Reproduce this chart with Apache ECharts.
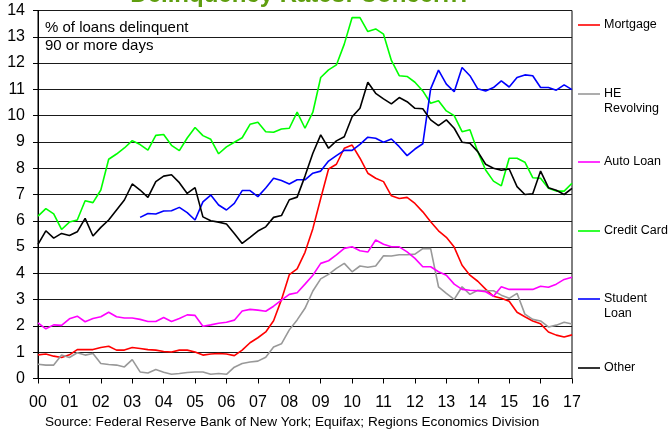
<!DOCTYPE html>
<html><head><meta charset="utf-8">
<script src="https://cdn.jsdelivr.net/npm/echarts@6/dist/echarts.min.js"></script>
<style>html,body{margin:0;padding:0;background:#fff}#c{width:669px;height:429px}</style>
</head><body><div id="c"></div>
<script>
const yearLabels = ['00','01','02','03','04','05','06','07','08','09','10','11','12','13','14','15','16','17'];
const seriesNames = ['Mortgage','HE\nRevolving','Auto Loan','Credit Card','Student\nLoan','Other'];
const mortgage = [0.9,0.93,0.85,0.8,0.9,1.1,1.1,1.1,1.18,1.23, 1.08,1.08,1.18,1.14,1.1,1.08,1.03,1.01,1.08,1.08, 1.01,0.89,0.93,0.95,0.93,0.87,1.08,1.36,1.55,1.77, 2.2,3.0,3.95,4.17,4.8,5.7,6.85,7.97,8.15,8.76, 8.88,8.38,7.81,7.62,7.49,6.95,6.85,6.89,6.66,6.34, 5.96,5.62,5.37,5.0,4.31,3.93,3.7,3.4,3.13,3.05, 2.94,2.52,2.35,2.19,2.08,1.77,1.65,1.58,1.66];
const heRevolving = [0.54,0.51,0.51,0.89,0.8,0.98,0.89,0.95,0.57,0.53, 0.51,0.44,0.72,0.25,0.21,0.34,0.24,0.16,0.19,0.23, 0.25,0.25,0.16,0.19,0.16,0.43,0.57,0.63,0.66,0.81, 1.2,1.32,1.85,2.23,2.67,3.33,3.79,3.96,4.19,4.38, 4.06,4.28,4.23,4.28,4.67,4.66,4.71,4.71,4.73,4.94, 4.94,3.49,3.24,3.01,3.49,3.2,3.36,3.34,3.34,3.17, 3.05,3.24,2.45,2.25,2.19,1.96,2.03,2.14,2.07];
const autoLoan = [2.12,1.89,2.04,2.02,2.27,2.37,2.16,2.28,2.35,2.52, 2.35,2.3,2.3,2.25,2.17,2.17,2.32,2.17,2.28,2.42, 2.4,1.99,2.04,2.1,2.14,2.22,2.57,2.63,2.6,2.56, 2.75,2.98,3.2,3.26,3.59,3.93,4.38,4.48,4.7,4.95, 5.01,4.86,4.81,5.27,5.11,5.01,5.01,4.82,4.57,4.25, 4.25,4.06,3.93,3.59,3.39,3.36,3.34,3.3,3.13,3.49, 3.39,3.39,3.39,3.39,3.51,3.47,3.59,3.77,3.85];
const creditCard = [6.18,6.46,6.26,5.67,5.95,6.03,6.76,6.69,7.17,8.34, 8.54,8.77,9.05,8.9,8.69,9.25,9.28,8.87,8.67,9.15, 9.55,9.24,9.1,8.55,8.81,8.99,9.16,9.67,9.75,9.39, 9.37,9.49,9.52,10.13,9.52,10.13,11.45,11.74,11.93,12.72, 13.73,13.73,13.2,13.3,13.1,12.1,11.52,11.49,11.27,10.94, 10.47,10.57,10.18,10.0,9.39,9.46,8.63,7.93,7.51,7.33, 8.38,8.38,8.23,7.64,7.62,7.24,7.13,7.13,7.43];
const studentLoan = [null,null,null,null,null,null,null,null,null,null,null,null,null, 6.13,6.28,6.26,6.37,6.38,6.51,6.31,6.03,6.72,6.98, 6.6,6.41,6.66,7.15,7.15,6.92,7.25,7.62,7.53,7.4, 7.56,7.56,7.81,7.89,8.27,8.48,8.68,8.68,8.91,9.18, 9.14,8.99,9.11,8.82,8.48,8.73,8.93,11.02,11.73,11.2, 10.91,11.83,11.52,11.02,10.94,11.07,11.32,11.09,11.45,11.55, 11.52,11.07,11.07,10.97,11.17,10.99];
const other = [5.1,5.62,5.34,5.52,5.44,5.58,6.09,5.42,5.75,6.03, 6.41,6.79,7.4,7.17,6.89,7.49,7.7,7.75,7.45,7.04, 7.26,6.15,6.0,5.95,5.88,5.52,5.14,5.37,5.61,5.77, 6.13,6.2,6.8,6.9,7.7,8.57,9.27,8.76,9.04,9.2, 9.96,10.28,11.27,10.85,10.64,10.45,10.69,10.53,10.28,10.26, 9.84,9.62,9.84,9.52,8.99,8.95,8.63,8.15,8.0,7.92, 7.97,7.3,7.0,7.03,7.89,7.26,7.16,7.0,7.23];
const colors = ['#ff0000','#999999','#ff00ff','#00ff00','#0000ff','#000000'];

// quarterly categories: 4 per year, last one is the final year tick
const categories = [];
for (let y = 0; y < yearLabels.length - 1; y++) {
  for (let q = 0; q < 4; q++) categories.push(q === 0 ? yearLabels[y] : yearLabels[y] + 'Q' + (q + 1));
}
categories.push(yearLabels[yearLabels.length - 1]);

const allData = [mortgage, heRevolving, autoLoan, creditCard, studentLoan, other];
const FONT = "'Liberation Sans', Arial, sans-serif";
const legendY = [25, 94, 162, 231, 299, 368];

const graphics = [
  { type: 'text', x: 301, y: 7, style: { text: 'Delinquency Rates: Concern?', font: 'bold 24px ' + FONT, fill: '#5f9e0f', textAlign: 'center', textVerticalAlign: 'bottom' } },
  { type: 'text', x: 45, y: 19, style: { text: '% of loans delinquent\n90 or more days', font: '15px ' + FONT, fill: '#000', lineHeight: 18, textVerticalAlign: 'top' } },
  { type: 'text', x: 45, y: 422, style: { text: 'Source: Federal Reserve Bank of New York; Equifax; Regions Economics Division', font: '13.6px ' + FONT, fill: '#000', textVerticalAlign: 'middle' } }
];
seriesNames.forEach((n, i) => {
  graphics.push({ type: 'line', shape: { x1: 578, y1: legendY[i], x2: 600, y2: legendY[i] }, style: { stroke: colors[i], lineWidth: 1.6 } });
  graphics.push({ type: 'text', x: 604, y: legendY[i] - 8, style: { text: n, font: '12.5px ' + FONT, fill: '#000', lineHeight: 15, textVerticalAlign: 'top' } });
});

const chart = echarts.init(document.getElementById('c'), null, { renderer: 'canvas' });
chart.setOption({
  animation: false,
  backgroundColor: '#fff',
  grid: { left: 38, right: 97, top: 10.5, bottom: 50.5, show: true, borderColor: '#000', borderWidth: 1, containLabel: false },
  xAxis: {
    type: 'category', data: categories, boundaryGap: false,
    axisLine: { lineStyle: { color: '#000', width: 1 } },
    axisTick: { show: true, interval: 3, length: 5, lineStyle: { color: '#000' } },
    axisLabel: { interval: 3, color: '#000', fontSize: 16, fontFamily: FONT, margin: 16 },
    splitLine: { show: false }
  },
  yAxis: {
    type: 'value', min: 0, max: 14, interval: 1,
    axisLine: { show: true, lineStyle: { color: '#000', width: 1 } },
    axisTick: { show: true, length: 5, lineStyle: { color: '#000' } },
    axisLabel: { color: '#000', fontSize: 16, fontFamily: FONT, margin: 13 },
    splitLine: { show: true, lineStyle: { color: '#1a1a1a', width: 1 } }
  },
  series: seriesNames.map((n, i) => ({
    name: n, type: 'line', data: allData[i], showSymbol: false, symbol: 'none',
    connectNulls: false, lineStyle: { color: colors[i], width: 1.6 }, itemStyle: { color: colors[i] }, z: 2 + i
  })),
  graphic: graphics
});
</script></body></html>
